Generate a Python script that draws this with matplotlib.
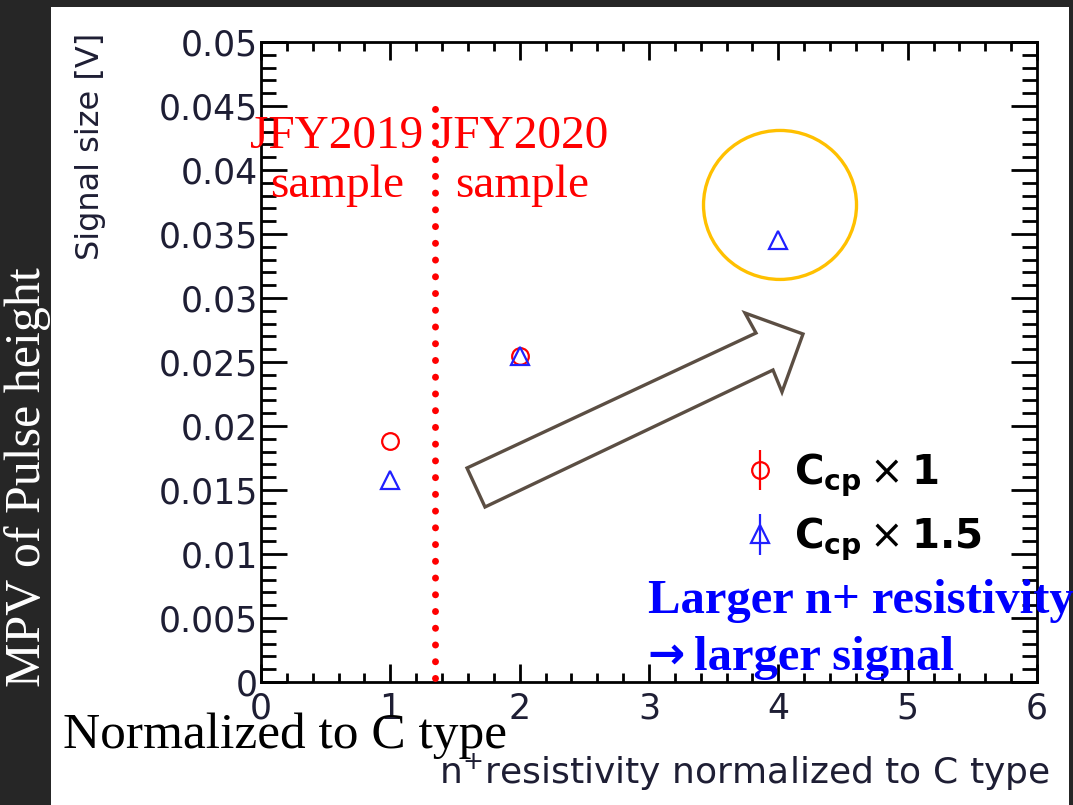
import matplotlib.pyplot as plt
from matplotlib.patches import Ellipse, Polygon, Rectangle

# n+ resistivity (normalized to C type) vs MPV of signal size [V]
X_CCP1 = [1, 2]
Y_CCP1 = [0.0188, 0.0255]
X_CCP15 = [1, 2, 4]
Y_CCP15 = [0.0158, 0.0255, 0.0345]
LABEL_CCP1 = r"$\mathbf{C_{cp}}\times\mathbf{1}$"
LABEL_CCP15 = r"$\mathbf{C_{cp}}\times\mathbf{1.5}$"

X_TICKS = [0, 1, 2, 3, 4, 5, 6]
Y_TICKS = [0, 0.005, 0.01, 0.015, 0.02, 0.025, 0.03, 0.035, 0.04, 0.045, 0.05]
Y_TICK_LABELS = ["0", "0.005", "0.01", "0.015", "0.02", "0.025", "0.03",
                 "0.035", "0.04", "0.045", "0.05"]

# boundary between JFY2019 and JFY2020 samples
SAMPLE_BOUNDARY = 1.345

W, H = 1073, 805
SERIF = ["Liberation Serif", "DejaVu Serif"]
TICK_COLOR = "#1e1e34"


def px(x, y):
    """pixel position (from top-left) -> figure fraction"""
    return x / W, 1 - y / H


fig = plt.figure(figsize=(W / 100, H / 100), dpi=100, facecolor="#262626")
fig.patches.append(Rectangle(px(51, 805), (1069 - 51) / W, (805 - 7) / H,
                             transform=fig.transFigure, facecolor="white",
                             edgecolor="none", zorder=-10))

ax = fig.add_axes([261 / W, 1 - 682 / H, 776 / W, 640 / H])
ax.set_facecolor("none")
ax.set_xlim(0, 6)
ax.set_ylim(0, 0.05)

ax.plot(X_CCP1, Y_CCP1, "o", ms=12, mfc="none", mec="#ff0000", mew=1.6, zorder=3)
ax.plot(X_CCP15, Y_CCP15, "^", ms=13, mfc="none", mec="#2020ff", mew=1.6, zorder=4)

# legend proxies (ROOT style marker with vertical error bar)
h1 = ax.errorbar([], [], yerr=[], fmt="o", ms=12, mfc="none", mec="#ff0000",
                 mew=1.6, ecolor="#ff0000", elinewidth=1.6, capsize=0)
h2 = ax.errorbar([], [], yerr=[], fmt="^", ms=13, mfc="none", mec="#2020ff",
                 mew=1.6, ecolor="#2020ff", elinewidth=1.6, capsize=0)
ax.legend([h1, h2], [LABEL_CCP1, LABEL_CCP15], loc="upper left",
          bbox_to_anchor=(0.622, 0.36), frameon=False, fontsize=29,
          handlelength=0.8, handletextpad=0.45, labelspacing=0.42,
          borderpad=0, borderaxespad=0)

# sample boundary
ax.plot([SAMPLE_BOUNDARY, SAMPLE_BOUNDARY], [0.0003, 0.0455], color="#ff0000",
        lw=5, linestyle=(0, (0.01, 2.4)), dash_capstyle="round", zorder=5)

# ROOT-like axes
ax.set_xticks(X_TICKS)
ax.set_yticks(Y_TICKS)
ax.set_yticklabels(Y_TICK_LABELS)
ax.set_xticks([i * 0.2 for i in range(31)], minor=True)
ax.set_yticks([i * 0.001 for i in range(51)], minor=True)
ax.tick_params(axis="both", which="both", direction="in", top=True, right=True,
               width=2, colors="black", labelcolor=TICK_COLOR, labelsize=25)
ax.tick_params(axis="x", which="major", length=13, pad=7)
ax.tick_params(axis="x", which="minor", length=6.5)
ax.tick_params(axis="y", which="major", length=19, pad=2)
ax.tick_params(axis="y", which="minor", length=11)
for spine in ax.spines.values():
    spine.set_linewidth(2)

fig.text(*px(91, 33), "Signal size [V]", rotation=90, ha="center", va="top",
         fontsize=23, color=TICK_COLOR)
fig.text(*px(1050, 783), r"n$^{+}$resistivity normalized to C type", ha="right",
         va="baseline", fontsize=26, color=TICK_COLOR)

# annotations
ax.add_patch(Ellipse((4.013, 0.03727), 1.183, 0.01164, fill=False,
                     edgecolor="#ffc000", lw=2.4, zorder=6))
arrow_px = [(467, 468), (756, 333), (745, 313), (803, 334), (782, 392),
            (773, 370), (485, 507)]
fig.patches.append(Polygon([px(x, y) for x, y in arrow_px], closed=True,
                           transform=fig.transFigure, fill=False,
                           edgecolor="#5b4e43", lw=2.4, zorder=6))

for cx, label in [(337, "JFY2019"), (522, "JFY2020")]:
    fig.text(*px(cx, 148), label, ha="center", va="baseline", fontsize=34,
             color="#ff0000", family=SERIF)
    fig.text(*px(cx, 197), "sample", ha="center", va="baseline", fontsize=34,
             color="#ff0000", family=SERIF)

fig.text(*px(648, 613), "Larger n+ resistivity", ha="left", va="baseline",
         fontsize=35, fontweight="bold", color="#0000ff", family=SERIF)
fig.text(*px(647, 668), "\u2192", ha="left", va="baseline", fontsize=32,
         fontweight="bold", color="#0000ff", family="DejaVu Sans")
fig.text(*px(694, 670), "larger signal", ha="left", va="baseline",
         fontsize=35, fontweight="bold", color="#0000ff", family=SERIF)
fig.text(*px(63, 748), "Normalized to C type", ha="left", va="baseline",
         fontsize=37, color="black", family=SERIF)
fig.text(*px(28, 477), "MPV of Pulse height", rotation=90, ha="center",
         va="center", fontsize=36, color="white", family=SERIF)

fig.savefig("out.png", dpi=100, facecolor=fig.get_facecolor())
